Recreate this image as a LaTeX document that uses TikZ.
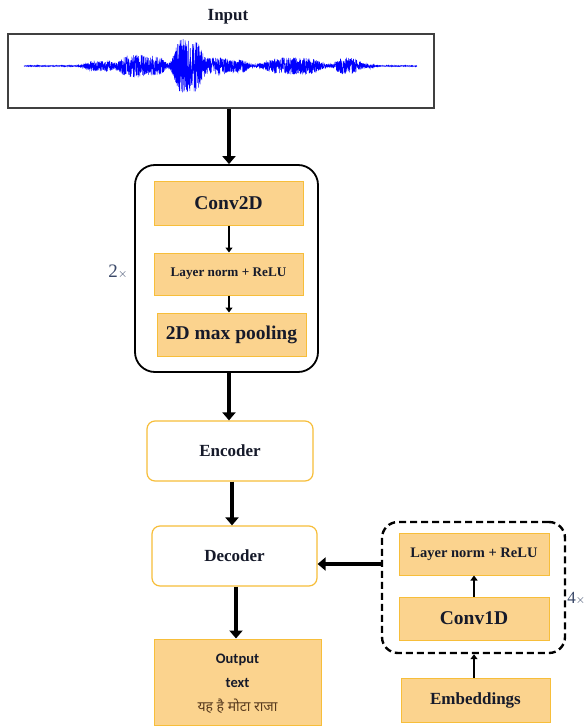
\documentclass[tikz,border=0pt]{standalone}
\usepackage{fontspec}
\setmainfont{Liberation Serif}
\newfontfamily\calib{Carlito}
\newfontfamily\deva[Script=Devanagari]{Noto Sans}
\usetikzlibrary{arrows.meta,calc}
\definecolor{boxfill}{HTML}{FBD38E}
\definecolor{boxline}{HTML}{F7BE3A}
\definecolor{txt}{HTML}{161A2A}
\definecolor{multc}{HTML}{3A4868}
\begin{document}
\begin{tikzpicture}[x=1pt,y=-1pt,
  obox/.style={draw=boxline,fill=boxfill,line width=1pt,inner sep=0pt,text=txt,font=\bfseries},
  wbox/.style={draw=boxline,fill=white,line width=1.2pt,rounded corners=8pt,inner sep=0pt,text=txt,font=\bfseries\fontsize{17}{19}\selectfont},
  bigarrow/.style={line width=4.5pt,-{Triangle[length=8pt,width=13pt]}},
  smallarrow/.style={line width=1.8pt,-{Triangle[length=5pt,width=7pt]}},
  declare function={sg(\x,\c,\w)=exp(-(min(abs((\x-\c)/\w),3))^4);
    env(\x)=0.4+5*sg(\x,100,15)+11*sg(\x,135,17)+8*sg(\x,158,8)+28*sg(\x,188,15)+8*sg(\x,218,14)+6*sg(\x,240,9)+8*sg(\x,293,30)+8*sg(\x,347,12)+2*sg(\x,365,8);}
]
\useasboundingbox (0,0) rectangle (586,727);
\fill[white] (0,0) rectangle (586,727);
% input
\node[font=\bfseries\fontsize{17}{19}\selectfont,text=txt] (inlabel) at (228,17) {Input};
\node[draw=black!75,line width=1.2pt,minimum width=426pt,minimum height=74pt,inner sep=0pt] (input) at (221,71) {};
\pgfmathsetseed{7}
\draw[blue,line width=0.45pt] plot[domain=24:417,samples=3000] (\x,{66+env(\x)*(2*rnd-1)});
% CNN block
\node[draw=black,line width=1.8pt,rounded corners=20pt,minimum width=183pt,minimum height=207pt] (outer) at (226.5,268.5) {};
\node[obox,minimum width=149pt,minimum height=43pt,font=\bfseries\fontsize{19.5}{21}\selectfont] (conv2d) at (228.5,203.5) {Conv2D};
\node[obox,minimum width=149pt,minimum height=42pt,font=\bfseries\fontsize{13.2}{15}\selectfont] (ln1) at (228.5,274) {Layer norm + ReLU};
\node[obox,minimum width=149pt,minimum height=43pt,font=\bfseries\fontsize{19.5}{21}\selectfont] (pool) at (231.5,334.5) {2D max pooling};
\node[text=multc,font=\fontsize{19}{21}\selectfont] (two) at (118,272) {2\kern0.3pt{\fontsize{13}{15}\selectfont$\times$}};
% encoder decoder
\node[wbox,minimum width=166pt,minimum height=60pt] (enc) at (230,451) {Encoder};
\node[wbox,minimum width=165pt,minimum height=60pt] (dec) at (234.5,556) {Decoder};
\node[obox,minimum width=167pt,minimum height=86pt] (out) at (237.5,682) {};
\node[font=\calib\bfseries\fontsize{14.5}{16}\selectfont,text=txt] (outl1) at (237.5,660) {Output};
\node[font=\calib\bfseries\fontsize{14.5}{16}\selectfont,text=txt] (outl2) at (237.5,683) {text};
\node[font=\deva\fontsize{14}{16}\selectfont,text=black!55!brown] (outl3) at (237.5,706) {यह है मोटा राजा};
% right block
\node[draw=black,line width=2.4pt,dash pattern=on 7pt off 4pt,rounded corners=16pt,minimum width=183pt,minimum height=131pt] (dash) at (473.5,587.5) {};
\node[obox,minimum width=150pt,minimum height=42pt,font=\bfseries\fontsize{14.5}{16}\selectfont] (ln2) at (474,554) {Layer norm + ReLU};
\node[obox,minimum width=150pt,minimum height=43pt,font=\bfseries\fontsize{19.5}{21}\selectfont] (conv1d) at (474,618.5) {Conv1D};
\node[obox,minimum width=149pt,minimum height=44pt,font=\bfseries\fontsize{17}{19}\selectfont] (emb) at (475.5,700) {Embeddings};
\node[text=multc,font=\fontsize{17}{19}\selectfont,anchor=east,inner sep=0pt] (four) at (585.5,598) {4\kern0.2pt{\fontsize{12}{14}\selectfont$\times$}};
% arrows
\coordinate (a1) at (229,0);
\draw[bigarrow] (input.south -| a1) -- (outer.north -| a1);
\draw[bigarrow] (outer.south -| a1) -- (enc.north -| a1);
\coordinate (a2) at (232,0);
\draw[bigarrow] (enc.south -| a2) -- (dec.north -| a2);
\coordinate (a3) at (236,0);
\draw[bigarrow] (dec.south -| a3) -- (out.north -| a3);
\coordinate (a4) at (0,564);
\draw[bigarrow] (dash.west |- a4) -- (dec.east |- a4);
\draw[smallarrow] (conv2d.south -| a1) -- (ln1.north -| a1);
\draw[smallarrow] (ln1.south -| a1) -- (pool.north -| a1);
\coordinate (a5) at (474,0);
\draw[smallarrow] (conv1d.north -| a5) -- (ln2.south -| a5);
\draw[smallarrow] (emb.north -| a5) -- (dash.south -| a5);
\end{tikzpicture}
\end{document}
